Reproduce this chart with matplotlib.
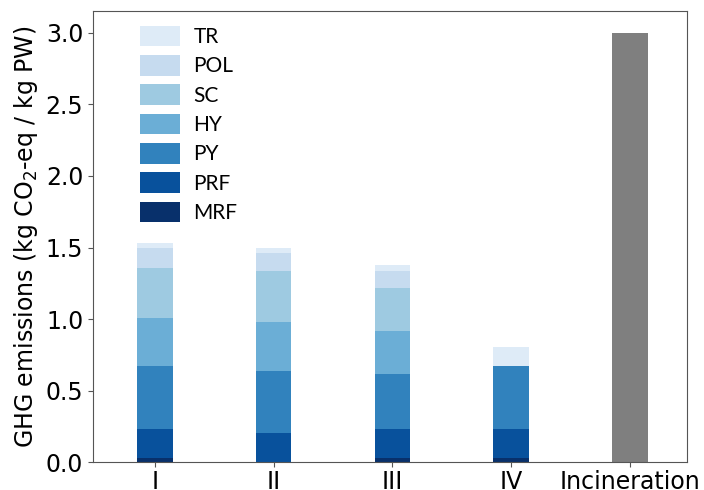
import numpy as np
import matplotlib
matplotlib.use("Agg")
import matplotlib.pyplot as plt

# --- Data ---
scenarios = ["I", "II", "III", "IV", "Incineration"]
stages = ["MRF", "PRF", "PY", "HY", "SC", "POL", "TR"]
stage_colors = ["#08306b", "#08519c", "#3182bd", "#6baed6",
                "#9ecae1", "#c6dbef", "#deebf7"]

# GHG contribution per stage for scenarios I-IV
mrf = [0.03, 0.00, 0.03, 0.03]
prf = [0.20, 0.20, 0.20, 0.20]
py = [0.44, 0.44, 0.385, 0.44]
hy = [0.34, 0.34, 0.30, 0.00]
sc = [0.35, 0.355, 0.305, 0.00]
pol = [0.135, 0.13, 0.115, 0.00]
tr = [0.04, 0.03, 0.045, 0.135]
incineration = 3.0

stage_values = [mrf, prf, py, hy, sc, pol, tr]

# --- Plot ---
fig = plt.figure(figsize=(7.04, 4.9), dpi=100)
ax = fig.add_axes([0.132, 0.057, 0.844, 0.921])

x = np.arange(4)
width = 0.3
bottom = np.zeros(4)
for name, vals, col in zip(stages, stage_values, stage_colors):
    ax.bar(x, vals, width, bottom=bottom, color=col, label=name)
    bottom += np.array(vals)

ax.bar(4, incineration, width, color="#7f7f7f")

ax.set_xlim(-0.52, 4.48)
ax.set_ylim(0, 3.155)
ax.set_xticks(range(len(scenarios)))
ax.set_xticklabels(scenarios)
ax.set_yticks(np.arange(0, 3.01, 0.5))
ax.tick_params(labelsize=17, length=3.5, color="#555555")
ax.tick_params(axis="x", pad=2.5)
ax.set_ylabel("GHG emissions (kg CO$_2$-eq / kg PW)", fontsize=17, labelpad=4)
for sp in ax.spines.values():
    sp.set_color("#555555")

handles, labels = ax.get_legend_handles_labels()
ax.legend(handles[::-1], labels[::-1], loc="upper left",
          bbox_to_anchor=(0.062, 0.99), frameon=False, borderpad=0,
          prop={"family": "Lato", "size": 15},
          handlelength=1.9, handleheight=1.15, labelspacing=0.38,
          handletextpad=0.65)

fig.savefig("out.png", dpi=100)
